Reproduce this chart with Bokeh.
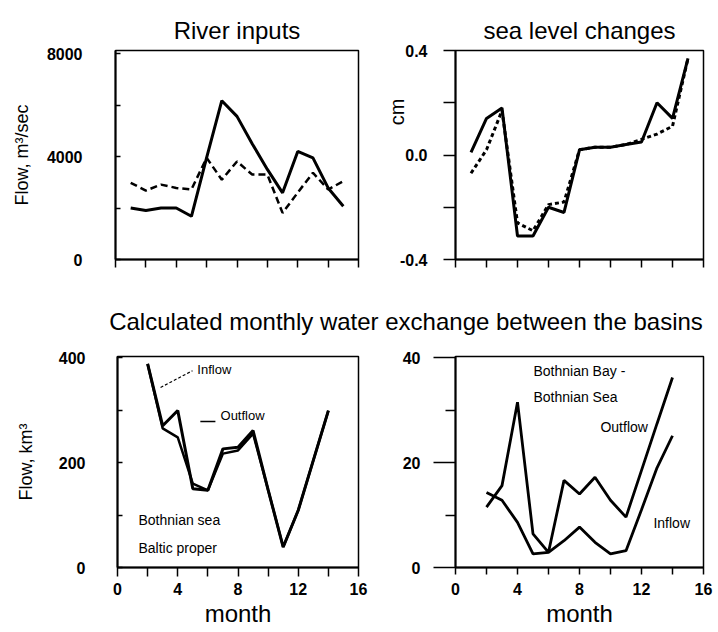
from bokeh.plotting import figure
from bokeh.layouts import column, row
from bokeh.models import Range1d, FixedTicker, Label, Div, Title
from bokeh.embed import file_html
from bokeh.resources import INLINE

# ---------------- data ----------------
months_top = [1, 2, 3, 4, 5, 6, 7, 8, 9, 10, 11, 12, 13, 14, 15]
river_solid = [2000, 1900, 2000, 2000, 1680, 3960, 6170, 5560, 4500, 3500, 2590, 4200, 3950, 2780, 2070]
river_dashed = [2980, 2680, 2910, 2780, 2720, 3950, 3100, 3810, 3300, 3300, 1810, 2600, 3370, 2720, 3040]
sea_solid = [0.01, 0.14, 0.18, -0.31, -0.31, -0.20, -0.22, 0.02, 0.03, 0.03, 0.04, 0.05, 0.20, 0.14, 0.37]
sea_dashed = [-0.07, 0.02, 0.17, -0.26, -0.29, -0.19, -0.18, 0.02, 0.03, 0.03, 0.04, 0.06, 0.08, 0.11, 0.37]

months_bottom = [2, 3, 4, 5, 6, 7, 8, 9, 10, 11, 12, 13, 14]
baltic_outflow = [388, 270, 299, 150, 147, 226, 229, 261, 148, 39, 109, 204, 299]
baltic_inflow = [388, 265, 248, 160, 147, 217, 223, 255, 148, 39, 109, 204, 299]
bay_outflow = [11.5, 15.6, 31.5, 6.4, 2.9, 16.6, 14.0, 17.2, 12.8, 9.6, 18.5, 27.4, 36.2]
bay_inflow = [14.3, 12.8, 8.6, 2.6, 2.9, 5.1, 7.7, 4.8, 2.6, 3.2, 11.0, 19.0, 25.1]

titles = ["River inputs", "sea level changes",
          "Calculated monthly water exchange between the basins"]
y_labels = ["Flow, m\u00b3/sec", "cm", "Flow, km\u00b3"]
x_label = "month"

FONT = "Liberation Sans"


def base_fig(xr, yr, fw, fh, bl, br, bt, bb):
    p = figure(frame_width=fw, frame_height=fh, x_range=Range1d(*xr), y_range=Range1d(*yr),
               min_border_left=bl, min_border_right=br, min_border_top=bt, min_border_bottom=bb,
               output_backend="svg", toolbar_location=None, tools="")
    p.grid.visible = False
    p.outline_line_color = "black"
    p.outline_line_width = 1.5
    p.background_fill_color = "white"
    p.border_fill_color = "white"
    for ax in (p.xaxis[0], p.yaxis[0]):
        ax.axis_line_width = 2
        ax.axis_line_color = "black"
        ax.major_tick_line_width = 1.5
        ax.minor_tick_line_width = 1.5
        ax.major_tick_line_color = "black"
        ax.minor_tick_line_color = "black"
        ax.major_label_text_font = FONT
        ax.major_label_text_font_style = "bold"
        ax.major_label_text_font_size = "16px"
        ax.major_label_text_color = "black"
        ax.axis_label_text_font = FONT
        ax.axis_label_text_font_style = "normal"
        ax.axis_label_text_font_size = "18px"
        ax.axis_label_text_color = "black"
    return p


def set_title(p, text, standoff=14):
    p.title.text = text
    p.title.align = "center"
    p.title.text_font = FONT
    p.title.text_font_size = "24px"
    p.title.text_font_style = "normal"
    p.title.text_color = "black"
    p.title.standoff = standoff


def top_xaxis(p):
    ax = p.xaxis[0]
    ticks = [0, 2, 4, 6, 8, 10, 12, 14, 16]
    ax.ticker = FixedTicker(ticks=ticks, minor_ticks=[])
    ax.major_tick_out = 8
    ax.major_tick_in = 0
    ax.major_label_overrides = {t: "" for t in ticks}
    ax.major_label_standoff = 0


def bottom_xaxis(p, tick_len, standoff):
    ax = p.xaxis[0]
    ax.ticker = FixedTicker(ticks=[0, 4, 8, 12, 16], minor_ticks=[2, 6, 10, 14])
    ax.major_tick_out = tick_len
    ax.major_tick_in = 0
    ax.minor_tick_out = tick_len
    ax.minor_tick_in = 0
    ax.major_label_standoff = standoff
    ax.axis_label = x_label
    ax.axis_label_text_font_size = "24px"
    ax.axis_label_standoff = 2


# ---------------- top-left: River inputs ----------------
p1 = base_fig((0, 16), (0, 8120), 243, 209, 115, 25, 50, 40)
set_title(p1, titles[0])
top_xaxis(p1)
ya = p1.yaxis[0]
ya.ticker = FixedTicker(ticks=[0, 2000, 4000, 6000, 8000], minor_ticks=[])
ya.major_label_overrides = {2000: "", 6000: ""}
ya.major_tick_in = 5
ya.major_tick_out = 0
ya.major_label_standoff = 33
ya.axis_label = y_labels[0]
ya.axis_label_standoff = 12
p1.line(months_top, river_solid, line_color="black", line_width=3)
p1.line(months_top, river_dashed, line_color="black", line_width=2.5, line_dash="7 4")

# ---------------- top-right: sea level changes ----------------
p2 = base_fig((0, 16), (-0.4, 0.4), 248, 209, 72, 13, 50, 40)
set_title(p2, titles[1])
top_xaxis(p2)
ya = p2.yaxis[0]
ya.ticker = FixedTicker(ticks=[-0.4, -0.2, 0, 0.2, 0.4], minor_ticks=[])
ya.major_label_overrides = {-0.4: "-0.4", -0.2: "", 0: "0.0", 0.2: "", 0.4: "0.4"}
ya.major_tick_in = 0
ya.major_tick_out = 12
ya.major_label_standoff = 16
p2.add_layout(Title(text=y_labels[1], align="right", offset=48, standoff=-22,
                    text_font=FONT, text_font_size="20px", text_font_style="normal",
                    text_color="black"), "left")
p2.line(months_top, sea_solid, line_color="black", line_width=3)
p2.line(months_top, sea_dashed, line_color="black", line_width=3, line_dash="4 3")

# ---------------- middle title ----------------
mid = Div(text='<span style="position:relative;left:48px">' + titles[2] + '</span>',
          width=716, height=46, margin=(0, 0, 0, 0),
          styles={"font-family": FONT, "font-size": "24px", "line-height": "46px",
                  "text-align": "center", "white-space": "nowrap", "color": "black",
                  "overflow": "visible"})

# ---------------- bottom-left: Bothnian sea - Baltic proper ----------------
p3 = base_fig((0, 16), (0, 402), 241, 211, 117, 40, 11, 60)
bottom_xaxis(p3, 9, 6)
ya = p3.yaxis[0]
ya.ticker = FixedTicker(ticks=[0, 100, 200, 300, 400], minor_ticks=[])
ya.major_label_overrides = {100: "", 300: ""}
ya.major_tick_in = 5
ya.major_tick_out = 0
ya.major_label_standoff = 32
ya.axis_label = y_labels[2]
ya.axis_label_standoff = 20
p3.line(months_bottom, baltic_outflow, line_color="black", line_width=3)
p3.line(months_bottom, baltic_inflow, line_color="black", line_width=2.5)

ann_font = "14px"
p3.line([2.86, 4.98], [343, 375], line_color="black", line_width=1.2, line_dash="3 2")
p3.add_layout(Label(x=5.3, y=377, text="Inflow", text_align="left", text_baseline="middle",
                    text_font=FONT, text_font_size="13px", text_color="black"))
p3.line([5.5, 6.5], [278, 278], line_color="black", line_width=1.5)
p3.add_layout(Label(x=6.84, y=290, text="Outflow", text_align="left", text_baseline="middle",
                    text_font=FONT, text_font_size="13px", text_color="black"))
p3.add_layout(Label(x=1.39, y=90, text="Bothnian sea", text_align="left", text_baseline="middle",
                    text_font=FONT, text_font_size=ann_font, text_color="black"))
p3.add_layout(Label(x=1.39, y=38, text="Baltic proper", text_align="left", text_baseline="middle",
                    text_font=FONT, text_font_size=ann_font, text_color="black"))

# ---------------- bottom-right: Bothnian Bay - Bothnian Sea ----------------
p4 = base_fig((0, 16), (0, 40.2), 248, 211, 57, 11, 11, 60)
bottom_xaxis(p4, 7, 8)
ya = p4.yaxis[0]
ya.ticker = FixedTicker(ticks=[0, 20, 40], minor_ticks=[10, 30])
ya.major_tick_in = 0
ya.major_tick_out = 22
ya.minor_tick_in = 0
ya.minor_tick_out = 10
ya.major_label_standoff = 13
p4.line(months_bottom, bay_outflow, line_color="black", line_width=2.8)
p4.line(months_bottom, bay_inflow, line_color="black", line_width=2.8)
p4.add_layout(Label(x=5.03, y=37.5, text="Bothnian Bay -", text_align="left", text_baseline="middle",
                    text_font=FONT, text_font_size=ann_font, text_color="black"))
p4.add_layout(Label(x=5.03, y=32.4, text="Bothnian Sea", text_align="left", text_baseline="middle",
                    text_font=FONT, text_font_size=ann_font, text_color="black"))
p4.add_layout(Label(x=9.35, y=26.7, text="Outflow", text_align="left", text_baseline="middle",
                    text_font=FONT, text_font_size=ann_font, text_color="black"))
p4.add_layout(Label(x=12.77, y=8.4, text="Inflow", text_align="left", text_baseline="middle",
                    text_font=FONT, text_font_size=ann_font, text_color="black"))

layout = column(row(p1, p2), mid, row(p3, p4))

with open("out.html", "w") as f:
    f.write(file_html(layout, INLINE))
